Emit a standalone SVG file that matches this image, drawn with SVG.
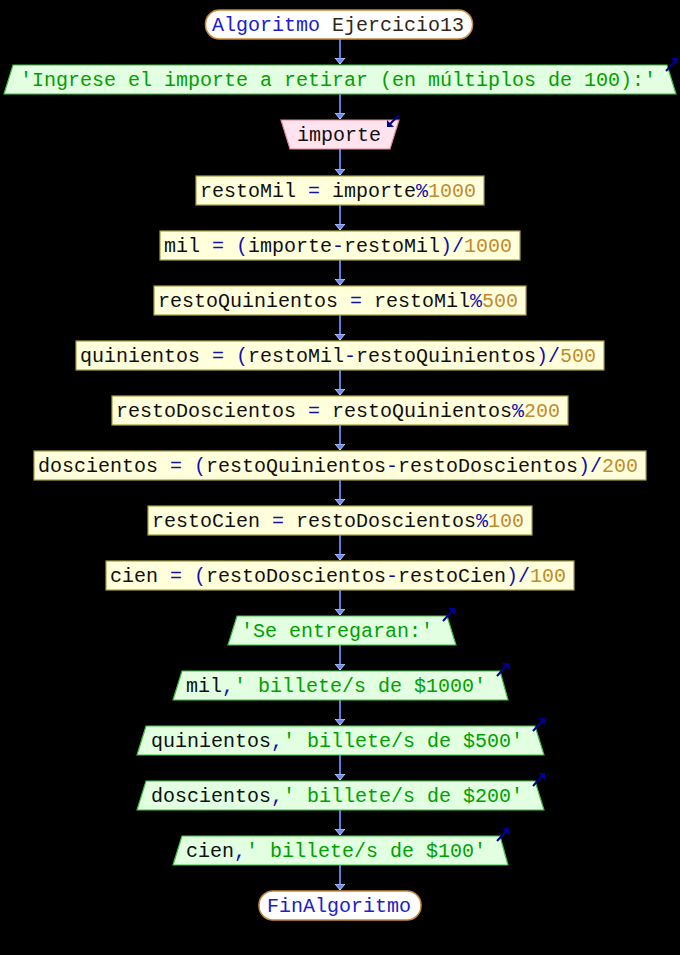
<svg xmlns="http://www.w3.org/2000/svg" width="680" height="955" viewBox="0 0 680 955">
<defs>
<style>
text{font-family:"Liberation Mono","DejaVu Sans Mono",monospace;font-size:20px;text-anchor:middle}
.term{fill:#ffffff;stroke:#c88838;stroke-width:1.5}
.proc{fill:#ffffdc;stroke:#a8a040;stroke-width:1.2}
.out{fill:#e2ffe2;stroke:#40c040;stroke-width:1.2}
.inp{fill:#ffe4f0;stroke:#e08898;stroke-width:1.2}
.v{fill:#101010}
.o{fill:#1010b0}
.n{fill:#c08a30}
.s{fill:#00a000}
.kw{fill:#2020c8}
.icon{fill:none;stroke:#000090;stroke-width:2}
.conn{stroke:#5c7ce0;stroke-width:2;fill:none}
</style>
<marker id="ah" markerUnits="userSpaceOnUse" markerWidth="8" markerHeight="11" refX="6" refY="5" orient="auto">
<path d="M0,0 L6,5 L0,10 z" fill="#6888f0" stroke="#dde4ff" stroke-width="0.8"/>
</marker>
<g id="outIcon"><path class="icon" d="M0,13 L11,1"/><path d="M5,0 L12,0 L12,7 z" fill="#000090"/></g>
<g id="inIcon"><path class="icon" d="M12,0 L1,11"/><path d="M0,5 L0,12 L7,12 z" fill="#000090"/></g>
</defs>
<rect x="0" y="0" width="680" height="955" fill="#000000"/>

<g id="connectors">
<path class="conn" d="M340,39 V64" marker-end="url(#ah)"/>
<path class="conn" d="M340,94 V119" marker-end="url(#ah)"/>
<path class="conn" d="M340,149 V175" marker-end="url(#ah)"/>
<path class="conn" d="M340,205 V230" marker-end="url(#ah)"/>
<path class="conn" d="M340,260 V285" marker-end="url(#ah)"/>
<path class="conn" d="M340,315 V340" marker-end="url(#ah)"/>
<path class="conn" d="M340,370 V395" marker-end="url(#ah)"/>
<path class="conn" d="M340,425 V450" marker-end="url(#ah)"/>
<path class="conn" d="M340,480 V505" marker-end="url(#ah)"/>
<path class="conn" d="M340,535 V560" marker-end="url(#ah)"/>
<path class="conn" d="M340,590 V615" marker-end="url(#ah)"/>
<path class="conn" d="M340,645 V670" marker-end="url(#ah)"/>
<path class="conn" d="M340,700 V725" marker-end="url(#ah)"/>
<path class="conn" d="M340,755 V780" marker-end="url(#ah)"/>
<path class="conn" d="M340,810 V835" marker-end="url(#ah)"/>
<path class="conn" d="M340,865 V890" marker-end="url(#ah)"/>
</g>

<g id="start">
<rect class="term" x="205.5" y="10" width="267" height="29" rx="14" ry="14"/>
<text x="338" y="31"><tspan class="kw">Algoritmo</tspan><tspan fill="#302818"> Ejercicio13</tspan></text>
</g>

<g id="out1">
<polygon class="out" points="13,65 667,65 676,94 4,94"/>
<text x="338" y="86" class="s">'Ingrese el importe a retirar (en múltiplos de 100):'</text>
<use href="#outIcon" x="666" y="58"/>
</g>

<g id="in1">
<polygon class="inp" points="281,120 399,120 390,149 290,149"/>
<text x="339" y="141" class="v">importe</text>
<use href="#inIcon" x="387" y="115"/>
</g>

<g id="p1">
<rect class="proc" x="196" y="176" width="288" height="29"/>
<text x="338" y="197"><tspan class="v">restoMil </tspan><tspan class="o">=</tspan><tspan class="v"> importe</tspan><tspan class="o">%</tspan><tspan class="n">1000</tspan></text>
</g>

<g id="p2">
<rect class="proc" x="160" y="231" width="360" height="29"/>
<text x="338" y="252"><tspan class="v">mil </tspan><tspan class="o">= (</tspan><tspan class="v">importe</tspan><tspan class="o">-</tspan><tspan class="v">restoMil</tspan><tspan class="o">)/</tspan><tspan class="n">1000</tspan></text>
</g>

<g id="p3">
<rect class="proc" x="154" y="286" width="372" height="29"/>
<text x="338" y="307"><tspan class="v">restoQuinientos </tspan><tspan class="o">=</tspan><tspan class="v"> restoMil</tspan><tspan class="o">%</tspan><tspan class="n">500</tspan></text>
</g>

<g id="p4">
<rect class="proc" x="76" y="341" width="528" height="29"/>
<text x="338" y="362"><tspan class="v">quinientos </tspan><tspan class="o">= (</tspan><tspan class="v">restoMil</tspan><tspan class="o">-</tspan><tspan class="v">restoQuinientos</tspan><tspan class="o">)/</tspan><tspan class="n">500</tspan></text>
</g>

<g id="p5">
<rect class="proc" x="112" y="396" width="456" height="29"/>
<text x="338" y="417"><tspan class="v">restoDoscientos </tspan><tspan class="o">=</tspan><tspan class="v"> restoQuinientos</tspan><tspan class="o">%</tspan><tspan class="n">200</tspan></text>
</g>

<g id="p6">
<rect class="proc" x="34" y="451" width="612" height="29"/>
<text x="338" y="472"><tspan class="v">doscientos </tspan><tspan class="o">= (</tspan><tspan class="v">restoQuinientos</tspan><tspan class="o">-</tspan><tspan class="v">restoDoscientos</tspan><tspan class="o">)/</tspan><tspan class="n">200</tspan></text>
</g>

<g id="p7">
<rect class="proc" x="148" y="506" width="384" height="29"/>
<text x="338" y="527"><tspan class="v">restoCien </tspan><tspan class="o">=</tspan><tspan class="v"> restoDoscientos</tspan><tspan class="o">%</tspan><tspan class="n">100</tspan></text>
</g>

<g id="p8">
<rect class="proc" x="106" y="561" width="468" height="29"/>
<text x="338" y="582"><tspan class="v">cien </tspan><tspan class="o">= (</tspan><tspan class="v">restoDoscientos</tspan><tspan class="o">-</tspan><tspan class="v">restoCien</tspan><tspan class="o">)/</tspan><tspan class="n">100</tspan></text>
</g>

<g id="out2">
<polygon class="out" points="237,616 447,616 456,645 228,645"/>
<text x="337" y="637" class="s">'Se entregaran:'</text>
<use href="#outIcon" x="443" y="608"/>
</g>

<g id="out3">
<polygon class="out" points="182,671 500,671 508,700 173,700"/>
<text x="336" y="692"><tspan class="v">mil</tspan><tspan class="o">,</tspan><tspan class="s">' billete/s de $1000'</tspan></text>
<use href="#outIcon" x="497" y="663"/>
</g>

<g id="out4">
<polygon class="out" points="146,726 535,726 544,755 137,755"/>
<text x="337" y="747"><tspan class="v">quinientos</tspan><tspan class="o">,</tspan><tspan class="s">' billete/s de $500'</tspan></text>
<use href="#outIcon" x="533" y="718"/>
</g>

<g id="out5">
<polygon class="out" points="146,781 535,781 544,810 137,810"/>
<text x="337" y="802"><tspan class="v">doscientos</tspan><tspan class="o">,</tspan><tspan class="s">' billete/s de $200'</tspan></text>
<use href="#outIcon" x="533" y="773"/>
</g>

<g id="out6">
<polygon class="out" points="182,836 500,836 508,865 173,865"/>
<text x="336" y="857"><tspan class="v">cien</tspan><tspan class="o">,</tspan><tspan class="s">' billete/s de $100'</tspan></text>
<use href="#outIcon" x="497" y="828"/>
</g>

<g id="end">
<rect class="term" x="259" y="891" width="162" height="29" rx="14" ry="14"/>
<text x="339" y="912" class="kw">FinAlgoritmo</text>
</g>
</svg>
